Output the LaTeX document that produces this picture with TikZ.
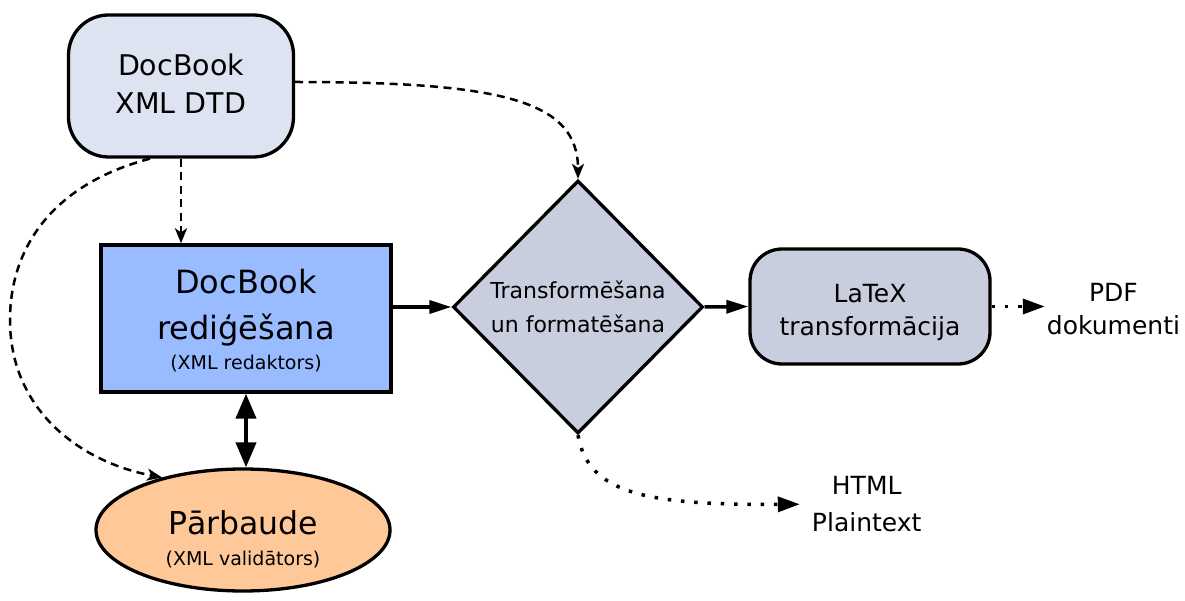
\documentclass[tikz,border=0pt]{standalone}
\usepackage{fontspec}
\setmainfont{DejaVu Sans}
\usetikzlibrary{shapes.geometric,arrows.meta}
\definecolor{dtdfill}{RGB}{221,227,240}
\definecolor{boxfill}{RGB}{153,187,255}
\definecolor{grayfill}{RGB}{200,206,221}
\definecolor{ellfill}{RGB}{255,200,152}
\tikzset{
  shapebox/.style={draw=black, line width=3.3pt, align=center, inner sep=0pt},
  plaintext/.style={align=center, inner sep=0pt},
  dasharrow/.style={line width=2.5pt, dash pattern=on 8pt off 5.5pt,
    -{Stealth[length=15pt,width=12pt,inset=4pt]}},
  dotarrow/.style={line width=3.5pt, dash pattern=on 3.5pt off 9.8pt,
    -{Triangle[length=22pt,width=15pt]}},
  solidarrow/.style={line width=3.5pt, -{Triangle[length=22pt,width=13pt]}},
  dblarrow/.style={line width=4pt,
    {Triangle[length=25pt,width=20pt]}-{Triangle[length=25pt,width=20pt]}}
}
\newcommand{\subfont}{\fontsize{19}{30}\selectfont}
\begin{document}
\begin{tikzpicture}[x=1pt,y=-1pt]
\useasboundingbox (0,0) rectangle (1185,601);

\node[shapebox, fill=dtdfill, rounded corners=40pt, minimum width=225pt, minimum height=142pt,
  font={\fontsize{28.5}{38}\selectfont}]
  (dtd) at (181,86) {DocBook\\XML DTD\rule[-5pt]{0pt}{5pt}};

\node[shapebox, fill=boxfill, minimum width=290pt, minimum height=147pt,
  font={\fontsize{32}{46}\selectfont}]
  (box) at (246,318.5) {\rule{0pt}{29pt}DocBook\\rediģēšana\\[-16pt]{\subfont(XML redaktors)}};

\node[shapebox, diamond, fill=grayfill, minimum width=250pt, minimum height=253pt,
  font={\fontsize{22}{34}\selectfont}]
  (dia) at (578,307) {Transformēšana\\un formatēšana};

\node[shapebox, fill=grayfill, rounded corners=32pt, minimum width=240pt, minimum height=115pt,
  font={\fontsize{25}{33.3}\selectfont}]
  (latex) at (870,306.5) {\rule{0pt}{30pt}LaTeX\\transformācija};

\node[shapebox, ellipse, fill=ellfill, minimum width=294pt, minimum height=122pt,
  font={\fontsize{31.5}{31}\selectfont}]
  (ell) at (243,530) {\rule{0pt}{42pt}Pārbaude\\{\subfont(XML validātors)}};

\node[plaintext, font={\fontsize{25}{33.3}\selectfont}] (pdf) at (1113.5,309.2) {PDF\\dokumenti};
\node[plaintext, font={\fontsize{25}{36.7}\selectfont}] (html) at (866.7,504.2) {HTML\\Plaintext};

% connectors
\draw[dasharrow] ([yshift=4pt]dtd.east) .. controls (500,82) and (578,100) .. (dia.north);
\draw[dasharrow] (dtd.south) -- (dtd.south |- box.north);
\draw[dasharrow] ([xshift=-31pt]dtd.south) .. controls (50,185) and (10,250) .. (10,320)
  .. controls (10,410) and (80,462) .. (ell.147);
\draw[solidarrow] (box.east |- dia.west) -- (dia.west);
\draw[solidarrow] (dia.east) -- (latex.west);
\draw[dblarrow] (box.south) -- (box.south |- ell.north);
\draw[dotarrow, shorten >=2pt] (latex.east) -- (latex.east -| pdf.west);
\draw[dotarrow, shorten >=12pt] (dia.south) .. controls (588,495) and (650,505) .. (html.west);
\end{tikzpicture}
\end{document}
